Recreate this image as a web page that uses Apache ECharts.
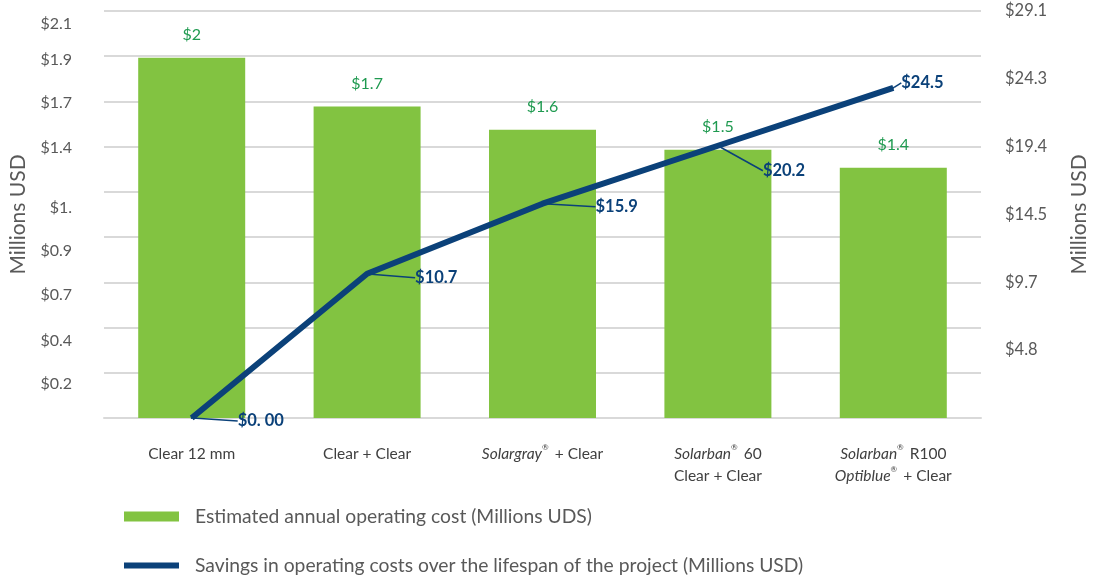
<!DOCTYPE html>
<html lang="en">
<head>
    <meta charset="UTF-8">
    <title>Operating cost</title>
    <style>
        body { margin: 0; background: #fff; }
        #main { width: 1093px; height: 578px; }
    </style>
</head>
<body>
    <div id="main"></div>
    <script src="https://cdn.jsdelivr.net/npm/echarts@6/dist/echarts.min.js"></script>
    <script>
        // data
        const categories = ['Clear 12 mm', 'Clear + Clear', 'Solargray® + Clear', 'Solarban® 60\nClear + Clear', 'Solarban® R100\nOptiblue® + Clear'];
        const annualCost = [2, 1.73, 1.6, 1.49, 1.39];
        const savings = [0, 10.7, 15.9, 20.2, 24.5];
        const savingsLabels = ['$0. 00', '$10.7', '$15.9', '$20.2', '$24.5'];
        const leftTicks = ['', '$0.2', '$0.4', '$0.7', '$0.9', '$1.', '$1.4', '$1.7', '$1.9', '$2.1'];
        const rightTicks = ['', '$4.8', '$9.7', '$14.5', '$19.4', '$24.3', '$29.1'];
        const seriesNames = ['Estimated annual operating cost (Millions UDS)', 'Savings in operating costs over the lifespan of the project (Millions USD)'];

        const font = 'Lato, "Liberation Sans", sans-serif';
        // label nudges (pixels)
        const leftTickShift = [0, 11, 13, 13, 14, 16, 1, 1, 4, 13];
        const lineLabelShift = [[41, 3], [43, 4], [48, 3], [40, 25], [3, -5]];

        const leftMax = 2.26, rightMax = 30.2;

        const leftRich = {};
        leftTickShift.forEach((s, i) => {
            leftRich['t' + i] = { color: '#595959', fontSize: 16, fontFamily: font, padding: [s * 2, 0, 0, 0] };
        });

        const legendText = { color: '#595959', fontSize: 19.3, fontFamily: font, padding: [0, 0, 0, 11] };
        const catStyle = { color: '#404040', fontSize: 15.5, fontFamily: font, lineHeight: 22 };

        const chart = echarts.init(document.getElementById('main'));
        chart.setOption({
            animation: false,
            grid: { left: 104, right: 112, top: 11, bottom: 160, outerBoundsMode: 'none', containLabel: false },
            legend: [{
                left: 124,
                top: 507,
                padding: 0,
                itemWidth: 55,
                itemHeight: 10,
                icon: 'rect',
                textStyle: legendText,
                data: [seriesNames[0]]
            }, {
                left: 124,
                top: 556,
                padding: 0,
                itemWidth: 55,
                itemHeight: 6,
                icon: 'rect',
                textStyle: legendText,
                data: [seriesNames[1]]
            }],
            xAxis: {
                type: 'category',
                data: categories,
                axisLine: { lineStyle: { color: '#d9d9d9', width: 2 } },
                axisTick: { show: false },
                axisLabel: Object.assign({
                    margin: 25,
                    interval: 0,
                    formatter: v => v.split('\n').map(l => l.replace(/(\w+)®/g, '{i|$1}{s|®}').replace(/^([^{]+)$/, '{n|$1}').replace(/\}([^{]+)$/, '}{n|$1}')).join('\n'),
                    rich: {
                        n: catStyle,
                        i: Object.assign({}, catStyle, { fontStyle: 'italic' }),
                        s: Object.assign({}, catStyle, { fontSize: 8, verticalAlign: 'top', padding: [0, 2, 8, 0] })
                    }
                }, catStyle)
            },
            yAxis: [{
                type: 'value',
                min: 0,
                max: leftMax,
                interval: leftMax / 9,
                name: 'Millions USD',
                nameLocation: 'middle',
                nameRotate: 90,
                nameGap: 75,
                nameTextStyle: { color: '#595959', fontSize: 21, fontFamily: font },
                axisLine: { show: false },
                axisTick: { show: false },
                splitLine: { lineStyle: { color: '#d9d9d9', width: 2 } },
                axisLabel: {
                    margin: 32,
                    formatter: (v, i) => '{t' + i + '|' + leftTicks[i] + '}',
                    rich: leftRich
                }
            }, {
                type: 'value',
                min: 0,
                max: rightMax,
                interval: rightMax / 6,
                position: 'right',
                name: 'Millions USD',
                nameLocation: 'middle',
                nameRotate: 90,
                nameGap: 88,
                nameTextStyle: { color: '#595959', fontSize: 21, fontFamily: font },
                axisLine: { show: false },
                axisTick: { show: false },
                splitLine: { show: false },
                axisLabel: {
                    margin: 24,
                    color: '#595959',
                    fontSize: 16.5,
                    fontFamily: font,
                    formatter: (v, i) => rightTicks[i]
                }
            }],
            series: [{
                name: seriesNames[0],
                type: 'bar',
                data: annualCost,
                barWidth: 107,
                itemStyle: { color: '#82c341' },
                label: {
                    show: true,
                    position: 'top',
                    distance: 15,
                    color: '#1f9a50',
                    fontSize: 16,
                    fontFamily: font,
                    formatter: p => '$' + Number(p.value.toFixed(1))
                }
            }, {
                name: seriesNames[1],
                type: 'line',
                yAxisIndex: 1,
                data: savings,
                symbol: 'circle',
                symbolSize: 2,
                lineStyle: { color: '#0b4179', width: 6 },
                itemStyle: { color: '#0b4179' },
                label: {
                    show: true,
                    position: 'right',
                    distance: 4,
                    color: '#0b4179',
                    fontWeight: 'bold',
                    fontSize: 16.5,
                    fontFamily: font,
                    formatter: p => savingsLabels[p.dataIndex]
                },
                labelLine: {
                    show: true,
                    smooth: false,
                    lineStyle: { color: '#0b4179', width: 1.5 }
                },
                labelLayout: p => ({
                    dx: lineLabelShift[p.dataIndex][0],
                    dy: lineLabelShift[p.dataIndex][1]
                })
            }]
        });
    </script>
</body>
</html>
